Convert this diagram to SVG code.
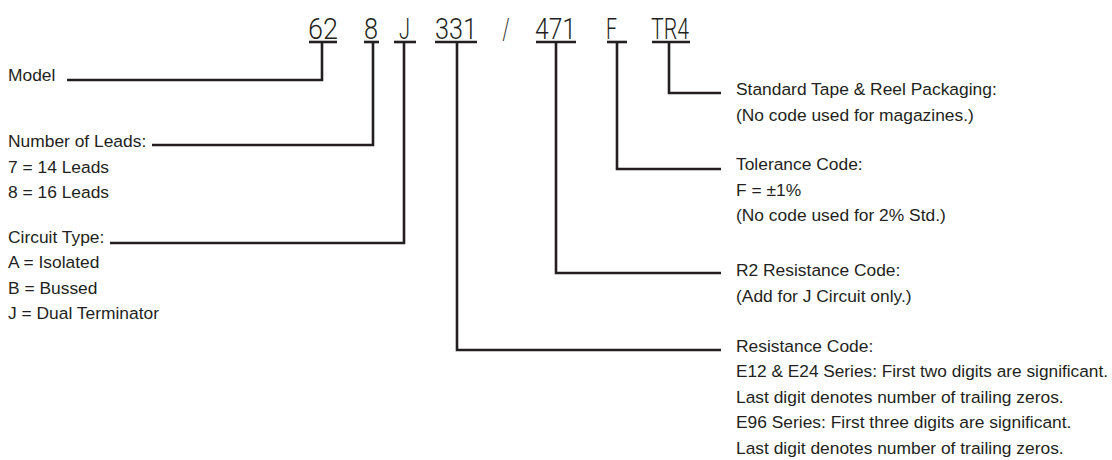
<svg xmlns="http://www.w3.org/2000/svg" width="1112" height="460" viewBox="0 0 1112 460">
<style>
.bg{fill:#ffffff}
.code{font-family:Roboto,"Liberation Sans",Arial,sans-serif;font-weight:300;font-size:30px;fill:#231f20}
.t{font-family:"Liberation Sans",Arial,sans-serif;font-size:17.4px;fill:#231f20}
.bar{stroke:#231f20;stroke-width:2.6;fill:none}
.con{stroke:#231f20;stroke-width:2.6;fill:none;stroke-linejoin:miter;stroke-linecap:butt}
</style>
<rect class="bg" x="0" y="0" width="1112" height="460"/>

<g id="code-model">
<text class="code" x="308" y="39" textLength="30" lengthAdjust="spacingAndGlyphs">62</text>
<line class="bar" x1="309" y1="42" x2="337" y2="42"/>
</g>
<g id="code-leads">
<text class="code" x="364" y="39" textLength="14" lengthAdjust="spacingAndGlyphs">8</text>
<line class="bar" x1="364" y1="42" x2="379" y2="42"/>
</g>
<g id="code-circuit">
<text class="code" x="399" y="39" textLength="11" lengthAdjust="spacingAndGlyphs">J</text>
<line class="bar" x1="394" y1="42" x2="416" y2="42"/>
</g>
<g id="code-resistance">
<text class="code" x="435" y="39" textLength="42" lengthAdjust="spacingAndGlyphs">331</text>
<line class="bar" x1="435" y1="42" x2="477" y2="42"/>
</g>
<g id="code-slash">
<text class="code" x="506" y="39" text-anchor="middle" textLength="7" lengthAdjust="spacingAndGlyphs">/</text>
</g>
<g id="code-r2">
<text class="code" x="535" y="39" textLength="41" lengthAdjust="spacingAndGlyphs">471</text>
<line class="bar" x1="536" y1="42" x2="576" y2="42"/>
</g>
<g id="code-tolerance">
<text class="code" x="606" y="39" textLength="11" lengthAdjust="spacingAndGlyphs">F</text>
<line class="bar" x1="607" y1="42" x2="627" y2="42"/>
</g>
<g id="code-packaging">
<text class="code" x="651" y="39" textLength="38" lengthAdjust="spacingAndGlyphs">TR4</text>
<line class="bar" x1="652" y1="42" x2="690" y2="42"/>
</g>

<g id="connectors">
<polyline class="con" points="322,42 322,80 67,80"/>
<polyline class="con" points="373,42 373,145 152,145"/>
<polyline class="con" points="404,42 404,243 110,243"/>
<polyline class="con" points="457,42 457,350 721,350"/>
<polyline class="con" points="556,42 556,273 721,273"/>
<polyline class="con" points="617,42 617,169 721,169"/>
<polyline class="con" points="669,42 669,93 721,93"/>
</g>

<g id="desc-model">
<text class="t" x="8" y="81">Model</text>
</g>
<g id="desc-leads">
<text class="t" x="8" y="147">Number of Leads:</text>
<text class="t" x="8" y="172.5">7 = 14 Leads</text>
<text class="t" x="8" y="198">8 = 16 Leads</text>
</g>
<g id="desc-circuit">
<text class="t" x="8" y="242.5">Circuit Type:</text>
<text class="t" x="8" y="268">A = Isolated</text>
<text class="t" x="8" y="293.5">B = Bussed</text>
<text class="t" x="8" y="319">J = Dual Terminator</text>
</g>
<g id="desc-packaging">
<text class="t" x="736" y="95">Standard Tape &amp; Reel Packaging:</text>
<text class="t" x="736" y="120.5">(No code used for magazines.)</text>
</g>
<g id="desc-tolerance">
<text class="t" x="736" y="170">Tolerance Code:</text>
<text class="t" x="736" y="195.5">F = ±1%</text>
<text class="t" x="736" y="221">(No code used for 2% Std.)</text>
</g>
<g id="desc-r2">
<text class="t" x="736" y="276">R2 Resistance Code:</text>
<text class="t" x="736" y="301.5">(Add for J Circuit only.)</text>
</g>
<g id="desc-resistance">
<text class="t" x="736" y="351.5">Resistance Code:</text>
<text class="t" x="736" y="377" textLength="372" lengthAdjust="spacingAndGlyphs">E12 &amp; E24 Series: First two digits are significant.</text>
<text class="t" x="736" y="402.5">Last digit denotes number of trailing zeros.</text>
<text class="t" x="736" y="428">E96 Series: First three digits are significant.</text>
<text class="t" x="736" y="453.5">Last digit denotes number of trailing zeros.</text>
</g>
</svg>
